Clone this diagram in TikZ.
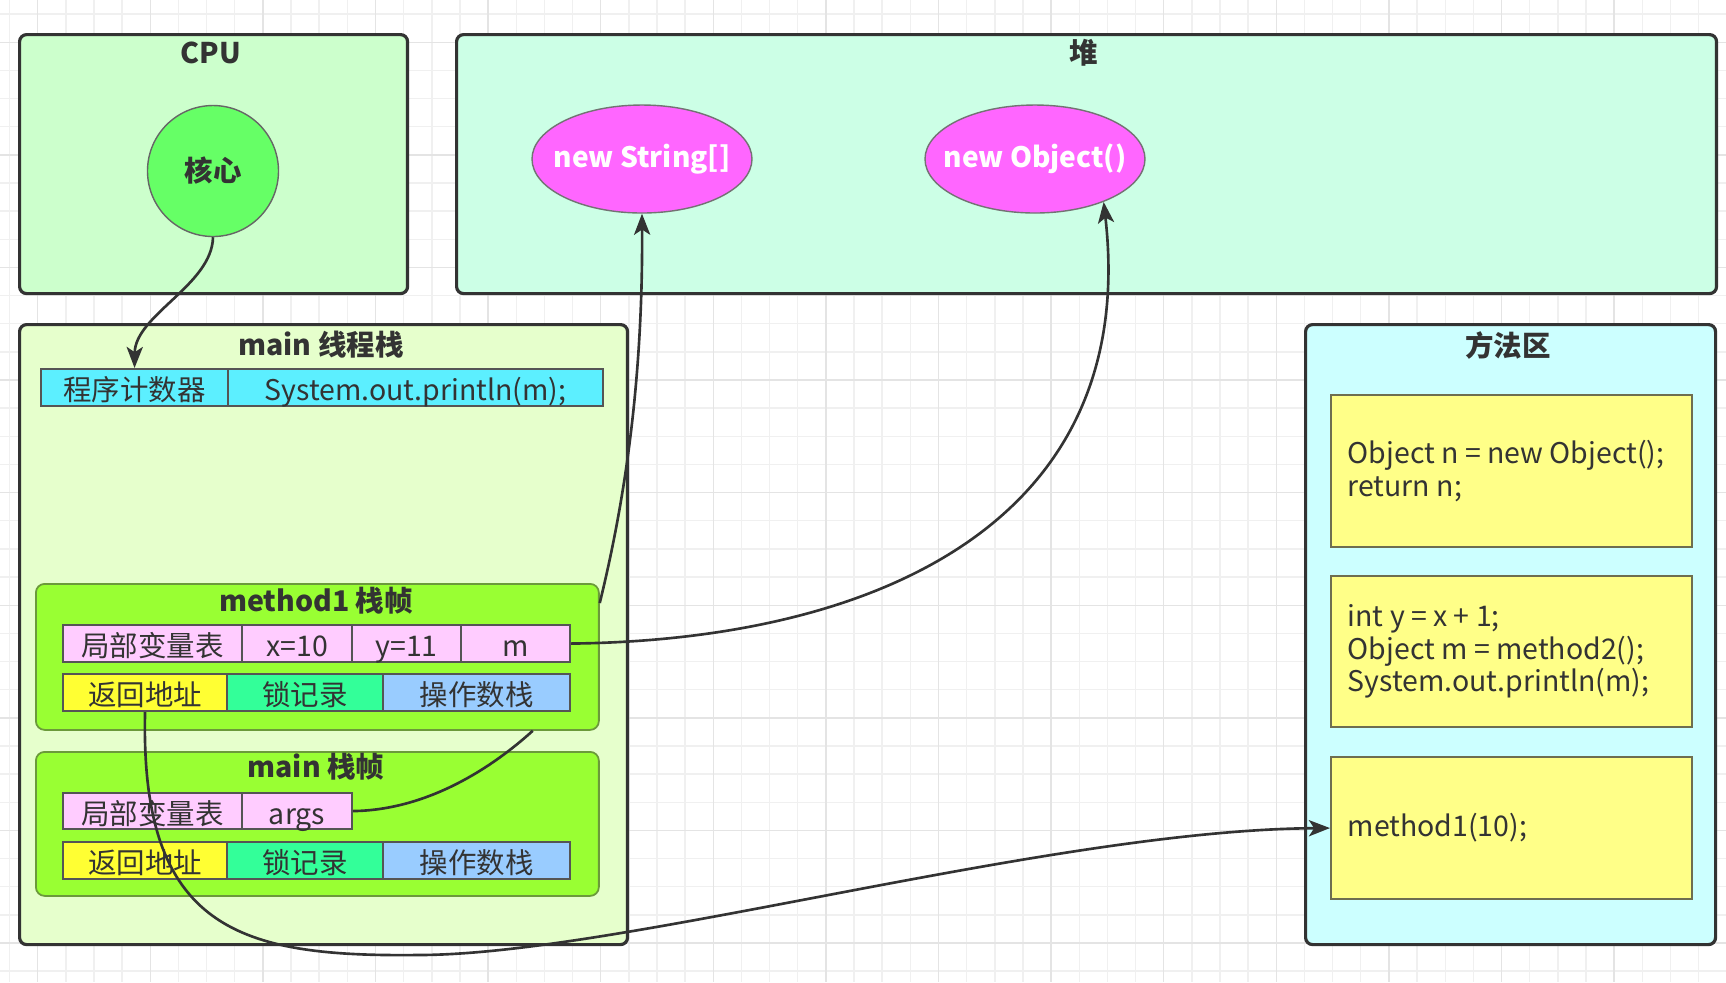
\documentclass[tikz,border=0pt]{standalone}
\usepackage{fontspec}
\setmainfont{Noto Sans CJK SC}
\usetikzlibrary{arrows.meta,shapes.geometric}

\definecolor{txt}{HTML}{333333}
\definecolor{edge}{HTML}{333333}
\definecolor{gridline}{HTML}{F0F0F0}
\definecolor{gridbold}{HTML}{E4E4E4}
\definecolor{cpugreen}{HTML}{CCFFCC}
\definecolor{heapmint}{HTML}{CCFFE6}
\definecolor{stackgreen}{HTML}{E6FFCC}
\definecolor{methodcyan}{HTML}{CCFFFF}
\definecolor{coregreen}{HTML}{66FF66}
\definecolor{objpink}{HTML}{FF66FF}
\definecolor{framegreen}{HTML}{99FF33}
\definecolor{frameedge}{HTML}{6B9A3A}
\definecolor{cellpink}{HTML}{FFCCFF}
\definecolor{cellcyan}{HTML}{5CEFFF}
\definecolor{cellyellow}{HTML}{FFFF33}
\definecolor{cellgreen}{HTML}{33FF99}
\definecolor{cellblue}{HTML}{99CCFF}
\definecolor{celledge}{HTML}{555555}
\definecolor{codeyellow}{HTML}{FFFF88}
\definecolor{codeedge}{HTML}{6E6E50}

\begin{document}
\begin{tikzpicture}[x=0.1mm, y=-0.1mm,
    font=\fontsize{8.1}{9.24}\selectfont, text=txt,
    area/.style={draw=edge, line width=0.9pt, rounded corners=2pt, anchor=north west, inner sep=0pt},
    frame/.style={draw=frameedge, line width=0.5pt, rounded corners=2.5pt, fill=framegreen, anchor=north west, inner sep=0pt},
    cell/.style={draw=celledge, line width=0.6pt, anchor=north west, inner sep=0pt, minimum height=3.7mm, text height=0.8em, text depth=0.06em},
    title/.style={font=\fontsize{8.1}{9.24}\selectfont\bfseries},
    obj/.style={ellipse, draw=black!55, fill=objpink, text=white, font=\fontsize{8}{9}\selectfont\bfseries, minimum width=22mm, minimum height=10.8mm, inner xsep=-1.5mm, inner ysep=0pt},
    code/.style={draw=codeedge, fill=codeyellow, line width=0.6pt, anchor=north west, minimum width=36.1mm, inner sep=0pt},
    codetext/.style={anchor=west, xshift=1.7mm, align=left, inner sep=0pt},
    link/.style={draw=edge, line width=0.75pt},
    ptr/.style={link, -{Stealth[length=6pt,width=4.6pt,inset=1.5pt]}}
]
    \useasboundingbox (0,0) rectangle (1726,982);

    % grid
    \fill[white] (0,0) rectangle (1726,982);
    \foreach \i in {0,...,60}
        \draw[gridline, line width=0.4pt] ({9.55+\i*28.15},0) -- ({9.55+\i*28.15},982);
    \foreach \j in {0,...,34}
        \draw[gridline, line width=0.4pt] (0,{14.05+\j*28.15}) -- (1726,{14.05+\j*28.15});
    \foreach \i in {1,5,...,57}
        \draw[gridbold, line width=0.4pt] ({9.55+\i*28.15},0) -- ({9.55+\i*28.15},982);
    \foreach \j in {1,5,...,33}
        \draw[gridbold, line width=0.4pt] (0,{14.05+\j*28.15}) -- (1726,{14.05+\j*28.15});

    % CPU
    \node[area, fill=cpugreen, minimum width=38.8mm, minimum height=25.9mm] (cpu) at (18,33) {};
    \node[title] (cputitle) at (211,53) {CPU};
    \node[circle, draw=black!60, fill=coregreen, minimum size=13.1mm, inner sep=0pt, title] (core) at (213,171) {核心};

    % heap
    \node[area, fill=heapmint, minimum width=126mm, minimum height=25.9mm] (heap) at (455,33) {};
    \node[title] (heaptitle) at (1084,53) {堆};
    \node[obj] (str) at (642,159) {new String[]};
    \node[obj] (obj) at (1035,159) {new Object()};

    % main thread stack
    \node[area, fill=stackgreen, minimum width=60.8mm, minimum height=62mm] (stack) at (18,323) {};
    \node[title] (stacktitle) at (321,345) {main 线程栈};
    \node[cell, fill=cellcyan, minimum width=18.7mm] (pc1) at (40,368) {程序计数器};
    \node[cell, fill=cellcyan, minimum width=37.5mm] (pc2) at (227,368) {System.out.println(m);};

    % method1 frame
    \node[frame, minimum width=56.3mm, minimum height=14.6mm] (m1) at (35,583) {};
    \node[title] (m1title) at (316,601) {method1 栈帧};
    \node[cell, fill=cellpink, minimum width=17.9mm] (lv1) at (62,624) {局部变量表};
    \node[cell, fill=cellpink, minimum width=11mm] (x) at (241,624) {x=10};
    \node[cell, fill=cellpink, minimum width=10.9mm] (y) at (351,624) {y=11};
    \node[cell, fill=cellpink, minimum width=10.9mm] (m) at (460,624) {m};
    \node[cell, fill=cellyellow, minimum width=16.4mm] (ret1) at (62,673) {返回地址};
    \node[cell, fill=cellgreen, minimum width=15.6mm] (lock1) at (226,673) {锁记录};
    \node[cell, fill=cellblue, minimum width=18.7mm] (ops1) at (382,673) {操作数栈};

    % main frame
    \node[frame, minimum width=56.3mm, minimum height=14.4mm] (mf) at (35,751) {};
    \node[title] (mftitle) at (316,767) {main 栈帧};
    \node[cell, fill=cellpink, minimum width=17.9mm, minimum height=3.6mm] (lv2) at (62,792) {局部变量表};
    \node[cell, fill=cellpink, minimum width=11mm, minimum height=3.6mm] (args) at (241,792) {args};
    \node[cell, fill=cellyellow, minimum width=16.4mm] (ret2) at (62,841) {返回地址};
    \node[cell, fill=cellgreen, minimum width=15.6mm] (lock2) at (226,841) {锁记录};
    \node[cell, fill=cellblue, minimum width=18.7mm] (ops2) at (382,841) {操作数栈};

    % method area
    \node[area, fill=methodcyan, minimum width=41mm, minimum height=62mm] (marea) at (1304,323) {};
    \node[title] (mareatitle) at (1508,345) {方法区};
    \node[code, minimum height=15.2mm] (c1) at (1330,394) {};
    \node[codetext] (c1text) at (c1.west) {Object n = new Object();\\return n;};
    \node[code, minimum height=15.1mm] (c2) at (1330,575) {};
    \node[codetext] (c2text) at (c2.west) {int y = x + 1;\\Object m = method2();\\System.out.println(m);};
    \node[code, minimum height=14.2mm] (c3) at (1330,756) {};
    \node[codetext] (c3text) at (c3.west) {method1(10);};

    % references
    \draw[ptr] (core.south) .. controls (212,285) and (135,315) .. (pc1.north);
    \draw[ptr] ([yshift=-2mm]m1.north east) .. controls (625,500) and (643,380) .. (str.south);
    \draw[ptr] (m.east) .. controls (880,640) and (1140,520) .. (obj.-32);
    \draw[link] (args.east) .. controls (430,810) and (495,765) .. ([xshift=-6.7mm]m1.south east);
    \draw[ptr] (ret1.south) .. controls (140,930) and (240,957) .. (418,955)
        .. controls (620,955) and (1050,830) .. (c3.west);
\end{tikzpicture}
\end{document}
